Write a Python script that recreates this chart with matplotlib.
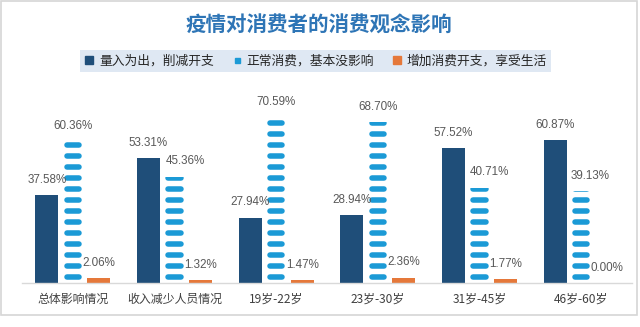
import math
import matplotlib
matplotlib.use("Agg")
import matplotlib.pyplot as plt
from matplotlib.patches import Rectangle
from matplotlib.lines import Line2D

plt.rcParams['font.family'] = ['Noto Sans CJK SC', 'DejaVu Sans']

# ---------------- data ----------------
title = "疫情对消费者的消费观念影响"
categories = ["总体影响情况", "收入减少人员情况", "19岁-22岁", "23岁-30岁", "31岁-45岁", "46岁-60岁"]
series_names = ["量入为出，削减开支", "正常消费，基本没影响", "增加消费开支，享受生活"]
cut_spending = [37.58, 53.31, 27.94, 28.94, 57.52, 60.87]
normal_spending = [60.36, 45.36, 70.59, 68.70, 40.71, 39.13]
more_spending = [2.06, 1.32, 1.47, 2.36, 1.77, 0.00]

# ---------------- style ----------------
c_dark = "#1F4E79"
c_blue = "#1B9AD6"
c_orange = "#E5783A"
c_label = "#595959"
c_text = "#404040"

unit = 4.68          # value represented by one pictograph slot
pill_off = 1.4       # gap below pill inside a slot
pill_h = 2.35        # pill height (value units)
pill_w = 0.177       # pill width (category units)
bar_w = 0.226
offset = 0.256
# manual label nudges (points) for some pictograph labels: (series, category) -> dx
label_nudge = {(1, 1): 7.5, (1, 4): 7.5, (1, 5): 6.5}

W, H = 640, 327
fig = plt.figure(figsize=(W / 100, H / 100), dpi=100)
fig.patch.set_facecolor("white")
fig.patches.append(Rectangle((1 / W, 1 - 315 / H), 636 / W, 314 / H,
                             transform=fig.transFigure, fill=False,
                             edgecolor="#D6D6D6", lw=1.2))

ax = fig.add_axes([22 / W, (H - 283.3) / H, 610 / W, 0.5750])
ax.set_xlim(-0.5, len(categories) - 0.5)
ax.set_ylim(0, 80)
ax.set_facecolor("none")
for s in ["top", "left", "right"]:
    ax.spines[s].set_visible(False)
ax.spines["bottom"].set_color("#D9D9D9")
ax.spines["bottom"].set_linewidth(1.0)
ax.set_yticks([])
x = list(range(len(categories)))
ax.set_xticks(x)
ax.set_xticklabels(categories, fontsize=8.6, color=c_text)
ax.tick_params(axis="x", length=0, pad=7)

# dark bars
ax.bar([i - offset for i in x], cut_spending, width=bar_w, color=c_dark, zorder=2)
# orange bars
ax.bar([i + offset for i in x], more_spending, width=bar_w, color=c_orange, zorder=2)

# pictograph pills
fig.canvas.draw()
px_per_y = ax.transData.transform((0, 1))[1] - ax.transData.transform((0, 0))[1]
px_per_x = ax.transData.transform((1, 0))[0] - ax.transData.transform((0, 0))[0]
lw_pt = pill_h * px_per_y * 72 / fig.dpi
cap_r = pill_h * px_per_y / 2 / px_per_x  # cap radius in x units
for i, v in zip(x, normal_spending):
    clip = Rectangle((i - 0.5, 0), 1.0, v, transform=ax.transData)
    n = math.ceil(v / unit)
    for k in range(n):
        yc = k * unit + pill_off + pill_h / 2
        ln, = ax.plot([i - pill_w / 2 + cap_r, i + pill_w / 2 - cap_r], [yc, yc],
                      color=c_blue, lw=lw_pt, solid_capstyle="round", zorder=2)
        ln.set_clip_path(clip)

# data labels
for si, (xs, vals) in enumerate([([i - offset for i in x], cut_spending),
                                 (x, normal_spending),
                                 ([i + offset for i in x], more_spending)]):
    for ci, (xi, v) in enumerate(zip(xs, vals)):
        dx = label_nudge.get((si, ci), 0)
        ax.annotate(f"{v:.2f}%", (xi, v), xytext=(dx, 11), textcoords="offset points",
                    ha="center", va="center", fontsize=8.4, color=c_label,
                    family=["Liberation Sans", "DejaVu Sans"], zorder=3,
                    annotation_clip=False)

# title
fig.text(0.4984, 1 - 25 / H, title, ha="center", va="center", fontsize=14.8,
         fontweight="bold", color="#2E75B6")

# legend
handles = [
    Line2D([], [], ls="none", marker="s", markersize=5.2, color=c_dark),
    Line2D([], [], ls="none", marker="s", markersize=3.6, color=c_blue),
    Line2D([], [], ls="none", marker="s", markersize=5.2, color=c_orange),
]
leg = fig.legend(handles, series_names, loc="center", bbox_to_anchor=(315.5 / W, 1 - 61 / H),
                 ncol=3, fontsize=9.2, frameon=True, fancybox=False,
                 handlelength=0.8, handletextpad=0.35, columnspacing=1.4,
                 borderpad=0.35, borderaxespad=0)
leg.get_frame().set_facecolor("#DFE8F3")
leg.get_frame().set_edgecolor("none")
leg.get_frame().set_alpha(1)
for t in leg.get_texts():
    t.set_color("#262626")

fig.savefig("out.png", dpi=100)
